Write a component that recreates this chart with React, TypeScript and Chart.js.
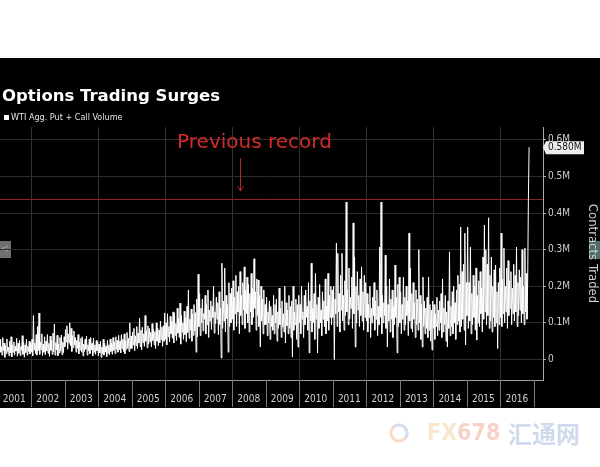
import React, { useEffect, useRef } from "react";
import { Chart, registerables } from "chart.js";

Chart.register(...registerables);

// ---- data (thousands of contracts). Each year: 24 sampled troughs (L) and 24 sampled peaks (H) ----
const years = [2001, 2002, 2003, 2004, 2005, 2006, 2007, 2008, 2009, 2010, 2011, 2012, 2013, 2014, 2015, 2016];
const L01 = [15,8,20,12,24,6,16,22,10,18,7,20,12,23,9,17,11,25,14,6,19,12,22,15];
const H01 = [42,55,35,60,45,38,56,34,50,62,40,48,36,58,44,52,35,65,46,40,55,36,50,45];
const L02 = [20,10,26,16,12,24,14,27,11,20,13,23,17,9,25,14,21,12,26,10,18,24,13,19];
const H02 = [55,120,45,68,90,127,48,70,42,62,50,68,44,64,52,72,97,46,66,42,60,67,47,62];
const L03 = [35,48,28,45,38,22,32,40,20,30,15,26,20,10,22,28,12,24,16,26,10,20,14,24];
const H03 = [82,92,70,100,85,65,78,60,52,68,48,58,62,42,55,64,40,56,60,44,58,40,52,48];
const L04 = [10,18,6,16,12,20,8,17,13,22,14,25,16,28,20,26,18,30,22,16,28,32,22,30];
const H04 = [42,50,34,55,44,36,52,40,56,45,60,48,62,52,66,50,68,55,70,52,74,58,100,64];
const L05 = [30,40,24,38,30,45,35,26,46,36,50,32,42,48,34,52,40,30,50,38,46,55,36,50];
const H05 = [75,85,65,90,72,113,80,88,70,120,78,92,85,74,98,82,76,100,86,80,105,88,92,127];
const L06 = [55,40,62,48,70,58,45,66,52,72,60,42,75,55,68,48,74,58,80,50,66,78,20,62];
const H06 = [100,125,90,118,105,130,127,98,140,112,154,120,100,132,115,145,190,110,138,124,150,128,165,233];
const L07 = [90,65,100,78,110,70,95,60,105,82,115,72,98,110,68,96,4,85,105,75,112,20,90,100];
const H07 = [180,140,165,125,175,150,190,135,160,145,200,130,170,155,185,140,263,160,250,175,150,210,180,195];
const L08 = [110,80,125,90,130,70,120,95,135,85,125,100,75,130,95,115,140,80,120,90,34,105,70,95];
const H08 = [215,170,230,185,200,240,175,210,253,190,225,205,180,235,195,275,185,220,217,175,200,165,190,150];
const L09 = [95,65,100,55,90,80,70,100,50,85,95,60,88,75,45,92,70,85,60,7,80,95,55,34];
const H09 = [170,130,160,145,120,175,150,165,130,195,140,160,125,200,155,135,175,145,160,200,130,165,150,175];
const L10 = [100,70,110,60,95,115,80,18,105,75,100,55,110,18,85,100,65,110,90,70,105,80,115,95];
const H10 = [150,200,130,175,190,145,210,160,263,140,180,235,150,170,205,135,185,160,220,145,235,175,200,190];
const L11 = [115,0,125,90,130,75,135,105,80,120,130,95,110,140,85,125,34,100,135,90,120,105,80,115];
const H11 = [200,165,318,290,180,230,290,175,215,430,190,250,170,225,373,280,200,240,175,220,253,185,230,210];
const L12 = [105,75,115,60,100,120,80,110,65,95,115,70,100,120,85,34,105,75,110,60,95,115,18,90];
const H12 = [180,150,200,140,170,210,160,190,145,307,430,175,155,285,200,150,220,165,190,145,258,170,205,225];
const L13 = [100,70,110,80,95,120,65,105,85,75,110,60,95,80,100,55,34,90,70,85,60,80,50,26];
const H13 = [185,150,225,170,200,160,345,250,180,210,155,190,165,300,175,150,225,160,140,170,225,150,135,160];
const L14 = [85,55,90,65,80,100,60,75,95,50,34,85,65,90,70,100,55,95,105,75,90,110,80,40];
const H14 = [150,125,170,135,160,180,220,140,175,130,160,294,145,185,200,155,190,230,205,362,240,260,345,210];
const L15 = [120,85,105,70,95,115,80,53,100,90,125,75,110,130,95,120,85,105,75,115,90,100,30,95];
const H15 = [362,210,307,180,230,200,250,175,215,240,195,280,367,300,260,387,230,280,200,245,258,185,210,250];
const L16 = [115,90,125,100,130,85,120,140,95,125,105,130,90,120,135,100,125,95,130,110,435];
const H16 = [345,220,304,200,250,270,215,240,195,260,230,307,210,245,225,300,200,304,235,215,580];
const lowsByYear = [L01, L02, L03, L04, L05, L06, L07, L08, L09, L10, L11, L12, L13, L14, L15, L16];
const highsByYear = [H01, H02, H03, H04, H05, H06, H07, H08, H09, H10, H11, H12, H13, H14, H15, H16];
const samplesPerYear = 48;

const yTicks = [0, 100, 200, 300, 400, 500, 600];
const gridYears = [2002, 2004, 2006, 2008, 2010, 2012, 2014, 2016];
const yearLabels = ["2001","2002","2003","2004","2005","2006","2007","2008","2009","2010","2011","2012","2013","2014","2015","2016"];
const previousRecord = 438;
const annotationYear = 2008.24;

const titleText = "Options Trading Surges";
const legendText = "WTI Agg. Put + Call Volume";
const axisTitle = "Contracts Traded";
const annotationText = "Previous record";

const COND = "'DejaVu Sans Condensed', 'DejaVu Sans', sans-serif";
const SANS = "'DejaVu Sans', sans-serif";

const fmtM = (v: number, d: number) => (v === 0 ? "0" : (v / 1000).toFixed(d) + "M");

const decorPlugin = {
  id: "decor",
  beforeDraw(chart: any) {
    const { ctx, width, height } = chart;
    ctx.save();
    ctx.fillStyle = "#ffffff";
    ctx.fillRect(0, 0, width, height);
    ctx.fillStyle = "#000000";
    ctx.fillRect(0, 58, width, 350);
    // title
    ctx.fillStyle = "#ffffff";
    ctx.font = `bold 16.5px ${SANS}`;
    ctx.textBaseline = "alphabetic";
    ctx.textAlign = "left";
    ctx.fillText(titleText, 2, 101);
    // legend
    ctx.fillRect(4, 115, 5, 5);
    ctx.fillStyle = "#e2e2e2";
    ctx.font = `9px ${COND}`;
    ctx.textBaseline = "middle";
    ctx.fillText(legendText, 11, 118);
    // page artefacts (side buttons)
    ctx.fillStyle = "#707070";
    ctx.fillRect(0, 241, 11, 17);
    ctx.fillStyle = "#a8a8a8";
    ctx.font = `10px ${SANS}`;
    ctx.textAlign = "center";
    ctx.fillText("<", 5, 249);
    ctx.fillStyle = "#4e6c6a";
    ctx.fillRect(589, 241, 11, 18);
    // vertical 2-year grid
    const xs = chart.scales.x;
    const { top, bottom } = chart.chartArea;
    ctx.strokeStyle = "#303030";
    ctx.lineWidth = 1;
    for (const gy of gridYears) {
      const px = Math.round(xs.getPixelForValue(gy)) + 0.5;
      ctx.beginPath();
      ctx.moveTo(px, top);
      ctx.lineTo(px, bottom);
      ctx.stroke();
    }
    ctx.restore();
  },
  beforeDatasetsDraw(chart: any) {
    const { ctx, chartArea } = chart;
    const ys = chart.scales.y;
    const py = Math.round(ys.getPixelForValue(previousRecord)) + 0.5;
    ctx.save();
    ctx.strokeStyle = "#8a2020";
    ctx.lineWidth = 1;
    ctx.beginPath();
    ctx.moveTo(0, py);
    ctx.lineTo(chartArea.right, py);
    ctx.stroke();
    ctx.restore();
  },
  afterDraw(chart: any) {
    const { ctx, chartArea } = chart;
    const xs = chart.scales.x;
    const ys = chart.scales.y;
    ctx.save();
    // label row
    const rowTop = chartArea.bottom;
    const rowBottom = 407;
    ctx.strokeStyle = "#9a9a9a";
    ctx.lineWidth = 1;
    ctx.beginPath();
    ctx.moveTo(0, rowTop + 0.5);
    ctx.lineTo(chartArea.right, rowTop + 0.5);
    ctx.stroke();
    ctx.strokeStyle = "#7a7a7a";
    years.forEach((yr) => {
      const px = Math.round(xs.getPixelForValue(yr + 1)) + 0.5;
      ctx.beginPath();
      ctx.moveTo(px, rowTop);
      ctx.lineTo(px, rowBottom);
      ctx.stroke();
    });
    ctx.fillStyle = "#d0d0d0";
    ctx.font = `10px ${COND}`;
    ctx.textAlign = "center";
    ctx.textBaseline = "middle";
    yearLabels.forEach((lab, i) => {
      ctx.fillText(lab, xs.getPixelForValue(years[i] + 0.5), 399);
    });
    // annotation
    const ax = Math.round(xs.getPixelForValue(annotationYear)) + 0.5;
    const ry = ys.getPixelForValue(previousRecord);
    ctx.strokeStyle = "#b02828";
    ctx.beginPath();
    ctx.moveTo(ax, ry - 41);
    ctx.lineTo(ax, ry - 8);
    ctx.moveTo(ax - 3, ry - 13);
    ctx.lineTo(ax, ry - 8);
    ctx.lineTo(ax + 3, ry - 13);
    ctx.stroke();
    ctx.fillStyle = "#d42a2a";
    ctx.font = `20px ${SANS}`;
    ctx.textAlign = "center";
    ctx.textBaseline = "middle";
    ctx.fillText(annotationText, ax + 14, ry - 56);
    // last value tag
    const lastArr = highsByYear[highsByYear.length - 1];
    const last = lastArr[lastArr.length - 1];
    const ly = ys.getPixelForValue(last);
    const bx = chartArea.right + 3;
    ctx.fillStyle = "#eeeeee";
    ctx.beginPath();
    ctx.moveTo(chartArea.right, ly);
    ctx.lineTo(bx, ly - 6);
    ctx.lineTo(bx + 38, ly - 6);
    ctx.lineTo(bx + 38, ly + 7);
    ctx.lineTo(bx, ly + 7);
    ctx.closePath();
    ctx.fill();
    ctx.fillStyle = "#111111";
    ctx.font = `10px ${COND}`;
    ctx.textAlign = "left";
    ctx.textBaseline = "middle";
    ctx.fillText(fmtM(last, 3), bx + 2, ly + 0.5);
    // watermark
    ctx.globalAlpha = 0.5;
    ctx.lineWidth = 3;
    ctx.strokeStyle = "#f0b890";
    ctx.beginPath();
    ctx.arc(399, 433, 8, Math.PI * 0.2, Math.PI * 1.3);
    ctx.stroke();
    ctx.strokeStyle = "#a9bde0";
    ctx.beginPath();
    ctx.arc(399, 433, 8, Math.PI * 1.3, Math.PI * 2.2);
    ctx.stroke();
    ctx.font = `bold 23px ${COND}`;
    ctx.textAlign = "left";
    ctx.textBaseline = "middle";
    ctx.fillStyle = "#f6d19a";
    ctx.fillText("FX", 427, 434);
    const w = ctx.measureText("FX").width;
    ctx.fillStyle = "#f0a690";
    ctx.fillText("678", 427 + w, 434);
    ctx.fillStyle = "#9fb5dc";
    ctx.font = `bold 24px 'Noto Sans CJK SC', sans-serif`;
    ctx.fillText("汇通网", 508, 434);
    ctx.restore();
  },
};

export default function App() {
  const ref = useRef<HTMLCanvasElement | null>(null);
  useEffect(() => {
    if (!ref.current) return;
    const points: { x: number; y: number }[] = [];
    years.forEach((yr, k) => {
      const lows = lowsByYear[k];
      const highs = highsByYear[k];
      lows.forEach((lo, i) => {
        points.push({ x: yr + (2 * i + 0.5) / samplesPerYear, y: lo });
        points.push({ x: yr + (2 * i + 1.5) / samplesPerYear, y: highs[i] });
      });
    });
    const chart = new Chart(ref.current, {
      type: "line",
      data: {
        datasets: [
          {
            label: legendText,
            data: points,
            borderColor: "#ffffff",
            borderWidth: 1,
            pointRadius: 0,
            tension: 0,
            fill: false,
          },
        ],
      },
      options: {
        animation: false,
        responsive: false,
        devicePixelRatio: 1,
        layout: { padding: { left: 0, right: 0, top: 127, bottom: 87 } },
        plugins: {
          legend: { display: false },
          tooltip: { enabled: false },
          title: { display: false },
        },
        scales: {
          x: { type: "linear", min: 2001.075, max: 2017.28, display: false },
          y: {
            position: "right",
            min: -56,
            max: 635,
            afterBuildTicks: (s: any) => {
              s.ticks = yTicks.map((v) => ({ value: v }));
            },
            afterFit: (s: any) => {
              s.width = 57;
            },
            grid: { color: "#2c2c2c", tickColor: "#aaaaaa", tickLength: 3, lineWidth: 1 },
            border: { display: true, color: "#aaaaaa", width: 1 },
            ticks: {
              color: "#cfcfcf",
              font: { family: COND, size: 10 },
              padding: 2,
              callback: (v: any) => fmtM(Number(v), 1),
            },
            title: {
              display: true,
              text: axisTitle,
              color: "#cfcfcf",
              font: { family: COND, size: 13 },
              padding: { top: 0, bottom: 0 },
            },
          },
        },
      },
      plugins: [decorPlugin],
    });
    return () => chart.destroy();
  }, []);
  return (
    <div style={{ position: "fixed", left: 0, top: 0, width: 600, height: 467 }}>
      <canvas ref={ref} width={600} height={467} />
    </div>
  );
}
